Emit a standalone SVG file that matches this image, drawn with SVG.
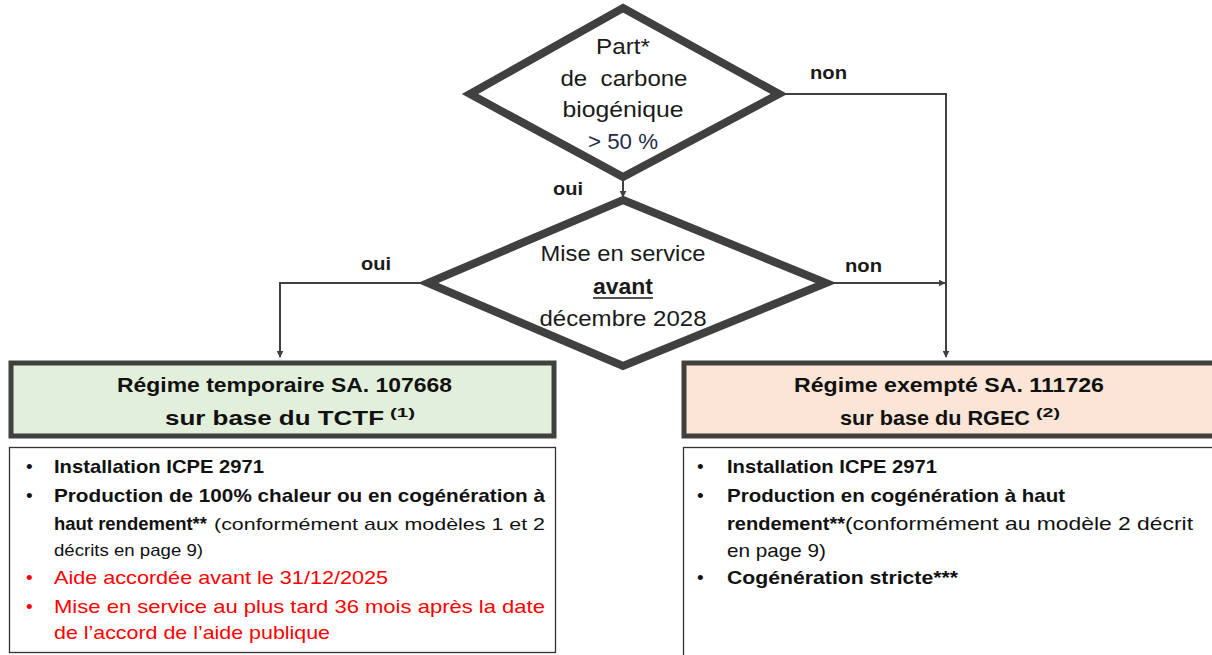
<svg xmlns="http://www.w3.org/2000/svg" width="1212" height="655" viewBox="0 0 1212 655">
<style>
text{font-family:"Liberation Sans",Arial,sans-serif;}
.dia{fill:#ffffff;stroke:#404040;stroke-width:8;stroke-linejoin:miter;}
.dt{font-size:22px;fill:#1a1a1a;text-anchor:middle;}
.lbl{font-size:18px;font-weight:bold;fill:#1a1a1a;}
.conn{fill:none;stroke:#404040;stroke-width:2;}
.hdr{font-size:21px;font-weight:bold;fill:#111;}
.sup{font-size:13px;font-weight:bold;fill:#111;}
.lst{fill:#ffffff;stroke:#333;stroke-width:1.3;}
.li{font-size:19px;fill:#111;}
.sm{font-size:17px;fill:#111;}
.b{font-weight:bold;}
.red{fill:#ff0000;}
</style>
<defs>
<marker id="ah" viewBox="0 0 10 10" refX="9" refY="5" markerWidth="7" markerHeight="7" orient="auto" markerUnits="userSpaceOnUse">
<path d="M0,0 L10,5 L0,10 z" fill="#404040"/>
</marker>
</defs>
<rect width="1212" height="655" fill="#ffffff"/>

<g id="connectors">
<polyline class="conn" points="781,94 946,94 946,357" marker-end="url(#ah)"/>
<line class="conn" x1="623" y1="180" x2="623" y2="197" marker-end="url(#ah)"/>
<polyline class="conn" points="426,283 280,283 280,357" marker-end="url(#ah)"/>
<line class="conn" x1="829" y1="283" x2="945" y2="283" marker-end="url(#ah)"/>
<text class="lbl" x="810" y="79" textLength="37" lengthAdjust="spacingAndGlyphs">non</text>
<text class="lbl" x="553" y="195" textLength="30" lengthAdjust="spacingAndGlyphs">oui</text>
<text class="lbl" x="361" y="270" textLength="30" lengthAdjust="spacingAndGlyphs">oui</text>
<text class="lbl" x="845" y="272" textLength="37" lengthAdjust="spacingAndGlyphs">non</text>
</g>

<g id="decision1">
<polygon class="dia" points="623,8 779,94 623,177 470,94"/>
<text class="dt" x="623" y="54" textLength="54" lengthAdjust="spacingAndGlyphs">Part*</text>
<text class="dt" x="624" y="86" textLength="127" lengthAdjust="spacingAndGlyphs" xml:space="preserve">de  carbone</text>
<text class="dt" x="623" y="117" textLength="121" lengthAdjust="spacingAndGlyphs">biogénique</text>
<text class="dt" x="623" y="149" textLength="70" lengthAdjust="spacingAndGlyphs" style="fill:#1f2a4a">&gt; 50 %</text>
</g>

<g id="decision2">
<polygon class="dia" points="623,200 826,283 623,366 428,283"/>
<text class="dt" x="623" y="261" textLength="165" lengthAdjust="spacingAndGlyphs">Mise en service</text>
<text class="dt" x="623" y="294" font-weight="bold" textLength="60" lengthAdjust="spacingAndGlyphs">avant</text>
<line x1="593" y1="298" x2="653" y2="298" stroke="#1a1a1a" stroke-width="1.6"/>
<text class="dt" x="623" y="326" textLength="167" lengthAdjust="spacingAndGlyphs">décembre 2028</text>
</g>

<g id="regime-temporaire">
<rect x="11" y="363" width="543" height="73" fill="#e2efda" stroke="#404040" stroke-width="5"/>
<text class="hdr" x="117" y="392" textLength="335" lengthAdjust="spacingAndGlyphs">Régime temporaire SA. 107668</text>
<text class="hdr" x="165" y="425" textLength="219" lengthAdjust="spacingAndGlyphs">sur base du TCTF</text>
<text class="sup" x="390" y="417" textLength="25" lengthAdjust="spacingAndGlyphs">(1)</text>
</g>

<g id="regime-exempte">
<rect x="684" y="363" width="540" height="73" fill="#fbe5d6" stroke="#404040" stroke-width="5"/>
<text class="hdr" x="794" y="392" textLength="310" lengthAdjust="spacingAndGlyphs">Régime exempté SA. 111726</text>
<text class="hdr" x="840" y="425" textLength="190" lengthAdjust="spacingAndGlyphs">sur base du RGEC</text>
<text class="sup" x="1036" y="417" textLength="24" lengthAdjust="spacingAndGlyphs">(2)</text>
</g>

<g id="conditions-gauche">
<rect class="lst" x="9.5" y="447.5" width="546" height="205"/>
<text class="li" x="26" y="473">•</text>
<text class="li b" x="54" y="473" textLength="210" lengthAdjust="spacingAndGlyphs">Installation ICPE 2971</text>
<text class="li" x="26" y="502">•</text>
<text class="li b" x="54" y="502" textLength="491" lengthAdjust="spacingAndGlyphs">Production de 100% chaleur ou en cogénération à</text>
<text class="li b" x="54" y="530" textLength="153" lengthAdjust="spacingAndGlyphs">haut rendement**</text>
<text class="sm" x="214" y="530" textLength="331" lengthAdjust="spacingAndGlyphs">(conformément aux modèles 1 et 2</text>
<text class="sm" x="54" y="556" textLength="149" lengthAdjust="spacingAndGlyphs">décrits en page 9)</text>
<text class="li red" x="26" y="584">•</text>
<text class="li red" x="54" y="584" textLength="334" lengthAdjust="spacingAndGlyphs">Aide accordée avant le 31/12/2025</text>
<text class="li red" x="26" y="613">•</text>
<text class="li red" x="54" y="613" textLength="491" lengthAdjust="spacingAndGlyphs">Mise en service au plus tard 36 mois après la date</text>
<text class="li red" x="54" y="639" textLength="276" lengthAdjust="spacingAndGlyphs">de l’accord de l’aide publique</text>
</g>

<g id="conditions-droite">
<rect class="lst" x="683.5" y="447.5" width="540" height="215"/>
<text class="li" x="697" y="473">•</text>
<text class="li b" x="727" y="473" textLength="210" lengthAdjust="spacingAndGlyphs">Installation ICPE 2971</text>
<text class="li" x="697" y="502">•</text>
<text class="li b" x="727" y="502" textLength="338" lengthAdjust="spacingAndGlyphs">Production en cogénération à haut</text>
<text class="li b" x="727" y="530" textLength="118" lengthAdjust="spacingAndGlyphs">rendement**</text>
<text class="li" x="845" y="530" textLength="348" lengthAdjust="spacingAndGlyphs">(conformément au modèle 2 décrit</text>
<text class="li" x="727" y="557" textLength="99" lengthAdjust="spacingAndGlyphs">en page 9)</text>
<text class="li" x="697" y="584">•</text>
<text class="li b" x="727" y="584" textLength="231" lengthAdjust="spacingAndGlyphs">Cogénération stricte***</text>
</g>
</svg>
